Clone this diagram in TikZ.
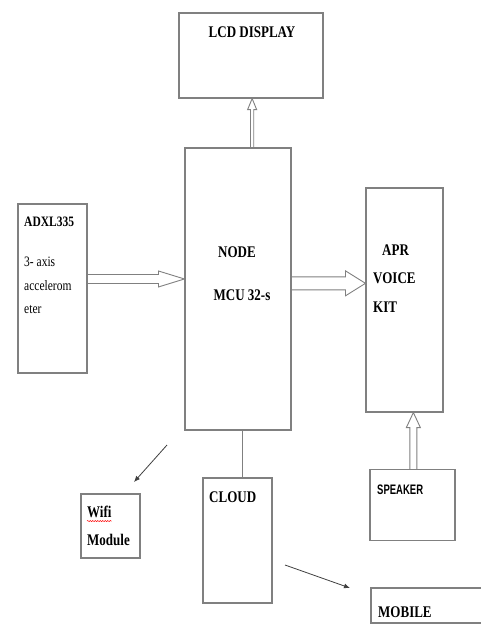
\documentclass[tikz,border=0pt]{standalone}
\usepackage{fontspec}
\setmainfont{Liberation Serif}
\setsansfont{Liberation Sans}
\usetikzlibrary{calc,arrows.meta,decorations.pathmorphing}
\definecolor{ln}{gray}{0.5}
\newcommand\tall[2][1.25]{\scalebox{1}[#1]{#2}}
\newcommand\hollowH[5]{%
  \draw[hollow] ($(#1)+(0,-#3)$) -- ($(#2)+(-#5,-#3)$) -- ($(#2)+(-#5,-#4)$) -- (#2)
    -- ($(#2)+(-#5,#4)$) -- ($(#2)+(-#5,#3)$) -- ($(#1)+(0,#3)$);}
\newcommand\hollowV[5]{%
  \draw[hollow] ($(#1)+(-#3,0)$) -- ($(#2)+(-#3,#5)$) -- ($(#2)+(-#4,#5)$) -- (#2)
    -- ($(#2)+(#4,#5)$) -- ($(#2)+(#3,#5)$) -- ($(#1)+(#3,0)$);}
\begin{document}
\begin{tikzpicture}[x=1pt,y=-1pt,
  box/.style={draw=ln, line width=1.1pt, rectangle, inner sep=0pt},
  hollow/.style={draw=ln, line width=0.9pt, line join=miter},
  lbl/.style={inner sep=0pt, font=\bfseries\fontsize{13}{15}\selectfont},
  sml/.style={inner sep=0pt, anchor=west, font=\fontsize{11.5}{13}\selectfont},
  thin arrow/.style={draw=black!75, line width=0.8pt, -{Latex[length=6pt,width=5pt]}}]
\clip (0,0) rectangle (481,624);
\fill[white] (0,0) rectangle (481,624);
% boxes
\node[box, minimum width=144pt, minimum height=85pt] (lcd) at (251,55.5) {};
\node[box, minimum width=106pt, minimum height=282pt] (mcu) at (238,289) {};
\node[box, minimum width=69pt, minimum height=169pt] (adxl) at (52.5,288.5) {};
\node[box, minimum width=77pt, minimum height=224pt] (apr) at (404.5,300) {};
\node[box, minimum width=85pt, minimum height=71pt] (spk) at (412.5,505) {};
\node[box, minimum width=69pt, minimum height=125pt] (cloud) at (237.5,540.5) {};
\node[box, minimum width=59pt, minimum height=64pt] (wifi) at (110.5,526) {};
\node[box, minimum width=118pt, minimum height=35pt] (mob) at (430,605.5) {};
% texts
\node[lbl] (tlcd) at (252,32) {\tall{LCD DISPLAY}};
\node[lbl] (tnode) at (237,252) {\tall{NODE}};
\node[lbl] (tmcu) at (242,295) {\tall{MCU 32-s}};
\node[sml, font=\bfseries\fontsize{11.5}{13}\selectfont] (tadxl) at (24,222) {\tall{ADXL335}};
\node[sml] (tax1) at (24,262) {\tall{3- axis}};
\node[sml] (tax2) at (24,286) {\tall{accelerom}};
\node[sml] (tax3) at (24,310) {\tall{eter}};
\node[lbl, anchor=west] (tapr1) at (382,250) {\tall{APR}};
\node[lbl, anchor=west] (tapr2) at (373,278) {\tall{VOICE}};
\node[lbl, anchor=west] (tapr3) at (373,307) {\tall{KIT}};
\node[inner sep=0pt, anchor=west, font=\sffamily\bfseries\fontsize{9.5}{11}\selectfont] (tspk) at (377,490) {\tall[1.45]{SPEAKER}};
\node[lbl, anchor=west] (tcloud) at (209,497) {\tall{CLOUD}};
\node[lbl, anchor=west] (twifi) at (87,512) {\tall{Wifi}};
\node[lbl, anchor=west] (tmod) at (87,540) {\tall{Module}};
\node[lbl, anchor=west] (tmob) at (378,612) {\tall{MOBILE}};
\draw[red, line width=0.5pt, decorate, decoration={snake, amplitude=0.6pt, segment length=2.5pt}]
  ($(twifi.south west)+(0,3)$) -- ($(twifi.south east)+(0,3)$);
% hollow arrows
\coordinate (a1s) at ($(adxl.north east)!0.444!(adxl.south east)$);
\coordinate (a1e) at (mcu.west |- a1s);
\hollowH{a1s}{a1e}{4.5}{8}{26}
\coordinate (a2s) at ($(mcu.north east)!0.48!(mcu.south east)$);
\coordinate (a2e) at (apr.west |- a2s);
\hollowH{a2s}{a2e}{6.5}{12.5}{20}
\coordinate (a3s) at ($(mcu.north west)!0.632!(mcu.north east)$);
\coordinate (a3e) at (lcd.south -| a3s);
\hollowV{a3s}{a3e}{1.6}{4.5}{11}
\coordinate (a4s) at ($(spk.north west)!0.51!(spk.north east)$);
\coordinate (a4e) at (apr.south -| a4s);
\hollowV{a4s}{a4e}{3.5}{7}{15}
% plain connectors
\coordinate (c1) at ($(cloud.north west)!0.565!(cloud.north east)$);
\draw[draw=ln, line width=1.1pt] (mcu.south -| c1) -- (c1);
\coordinate (w0) at (167,445);
\coordinate (w1) at (134,482);
\draw[thin arrow] (w0) -- (w1);
\coordinate (m0) at (285,565);
\coordinate (m1) at (350,588);
\draw[thin arrow] (m0) -- (m1);
\end{tikzpicture}
\end{document}
